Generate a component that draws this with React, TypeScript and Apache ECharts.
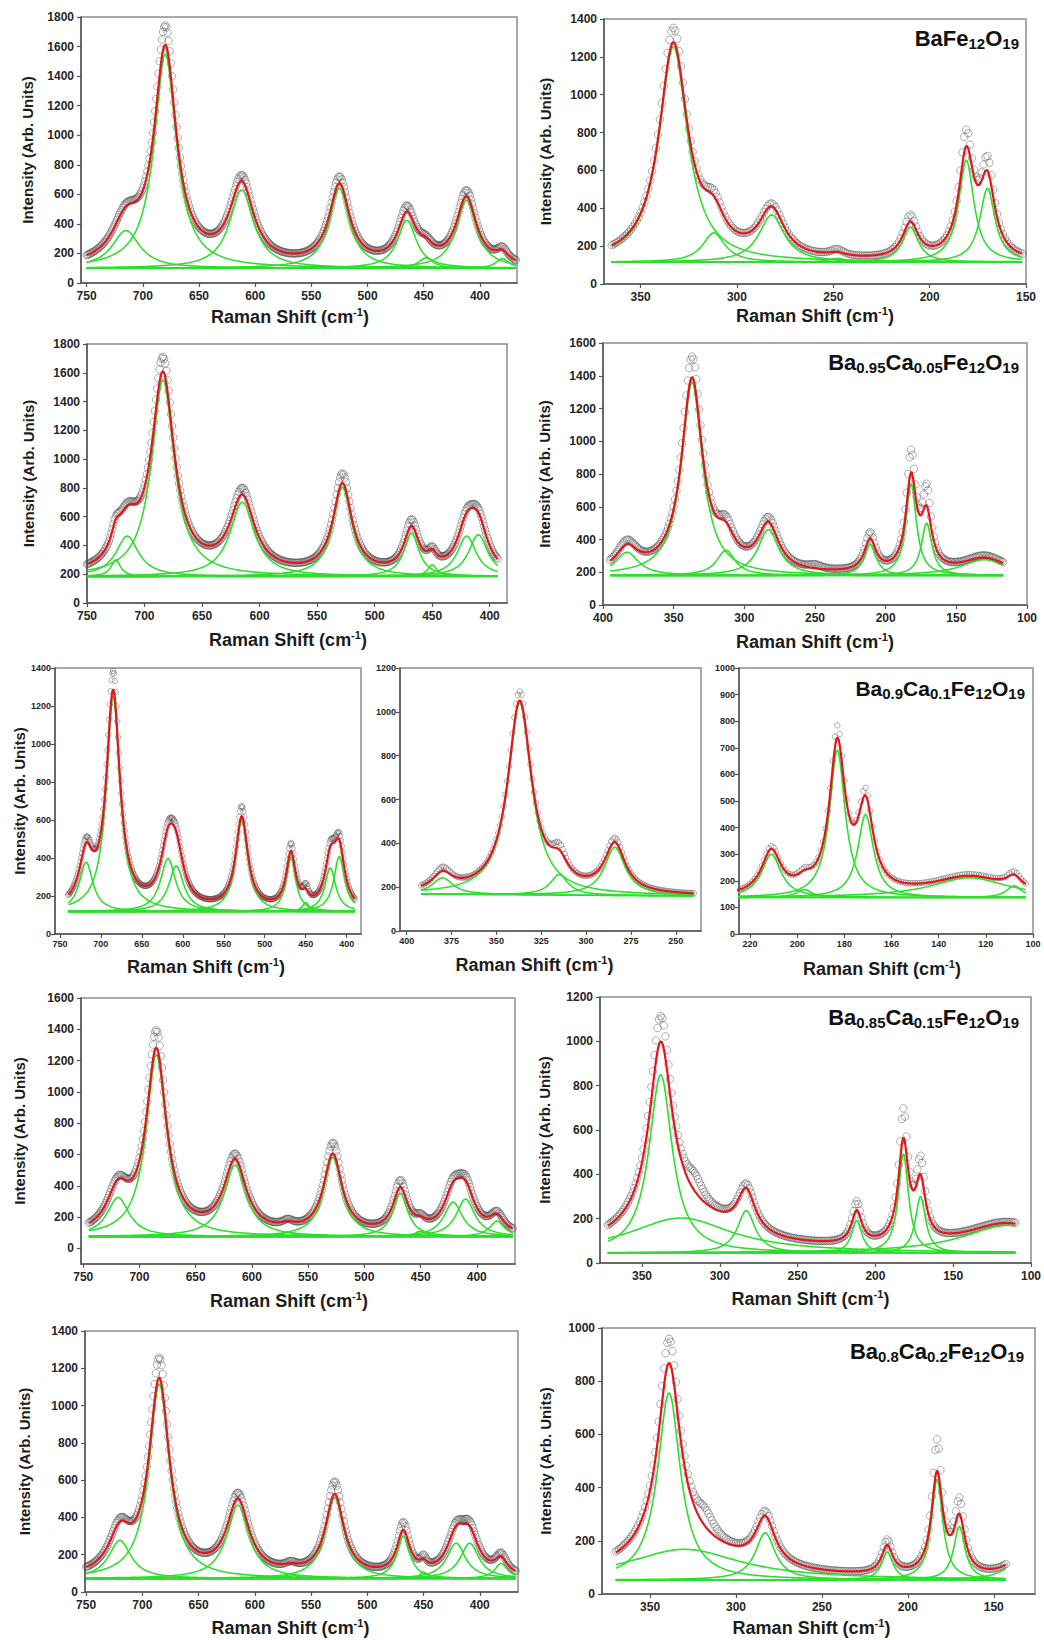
import React, { useEffect, useRef } from "react";
import * as echarts from "echarts";

const FONT = '"Liberation Sans", Arial, Helvetica, sans-serif';
const GREEN = "#2bdf2b";
const RED = "#e3151d";
const DOT = "rgba(70,70,70,0.55)";

// ---------- Peak data ----------
// range: [first, last] Raman shift sampled; baseline: [value at first, value at last]
// centers (cm-1), heights above baseline (fit), half widths (cm-1), observed peak heights

// Panel 1: BaFe12O19, high-frequency
const p1Range = [750, 368];
const p1Baseline = [100, 100];
const p1Centers = [715, 680, 612, 525, 465, 448, 412, 380];
const p1Heights = [255, 1450, 530, 540, 325, 70, 460, 65];
const p1Widths = [15, 12, 13, 11, 10, 8, 11, 7];
const p1Observed = [275, 1580, 570, 585, 365, 80, 500, 85];

// Panel 2: BaFe12O19, low-frequency
const p2Range = [365, 152];
const p2Baseline = [115, 115];
const p2Centers = [333, 312, 282, 248, 210, 181, 170];
const p2Heights = [1140, 155, 250, 20, 185, 540, 390];
const p2Widths = [9, 7, 8, 6, 5, 4.8, 4.8];
const p2Observed = [1215, 185, 265, 35, 220, 625, 465];

// Panel 3: Ba0.95Ca0.05Fe12O19, high-frequency
const p3Range = [750, 393];
const p3Baseline = [185, 185];
const p3Centers = [725, 715, 684, 615, 528, 468, 450, 420, 410];
const p3Heights = [115, 280, 1365, 515, 620, 300, 80, 280, 290];
const p3Widths = [5, 12, 12, 13, 10, 8, 5, 10, 10];
const p3Observed = [130, 300, 1465, 560, 685, 345, 95, 300, 315];

// Panel 4: Ba0.95Ca0.05Fe12O19, low-frequency
const p4Range = [395, 117];
const p4Baseline = [180, 180];
const p4Centers = [383, 337, 313, 283, 250, 211, 182, 171, 130];
const p4Heights = [142, 1180, 154, 280, 0, 192, 560, 320, 97];
const p4Widths = [10, 9, 8, 9, 6, 5, 4.5, 4.5, 20];
const p4Observed = [170, 1305, 190, 310, 25, 230, 695, 450, 110];

// Panel 5: Ba0.9Ca0.1Fe12O19, high-frequency
const p5Range = [740, 390];
const p5Baseline = [118, 118];
const p5Centers = [718, 685, 618, 608, 528, 468, 450, 420, 409];
const p5Heights = [260, 1133, 280, 240, 482, 288, 47, 230, 290];
const p5Widths = [10, 10, 11, 11, 9, 7, 5, 8, 8];
const p5Observed = [290, 1230, 305, 260, 535, 330, 75, 255, 320];

// Panel 6: Ba0.9Ca0.1Fe12O19, mid-frequency
const p6Range = [392, 240];
const p6Baseline = [168, 160];
const p6Centers = [380, 337, 315, 284];
const p6Heights = [75, 875, 94, 220];
const p6Widths = [7, 8, 6, 7];
const p6Observed = [95, 915, 125, 240];

// Panel 7: Ba0.9Ca0.1Fe12O19, low-frequency
const p7Range = [226, 103];
const p7Baseline = [137, 137];
const p7Centers = [211, 197, 183, 171, 127, 108];
const p7Heights = [163, 30, 555, 313, 74, 44];
const p7Widths = [5, 4, 4, 4, 20, 4];
const p7Observed = [173, 40, 600, 340, 80, 55];

// Panel 8: Ba0.85Ca0.15Fe12O19, high-frequency
const p8Range = [745, 368];
const p8Baseline = [75, 75];
const p8Centers = [719, 685, 615, 568, 528, 468, 450, 421, 410, 382];
const p8Heights = [250, 1163, 457, 27, 506, 276, 35, 220, 240, 99];
const p8Widths = [12, 11, 12, 8, 10, 8, 6, 10, 10, 8];
const p8Observed = [270, 1275, 490, 40, 575, 320, 50, 245, 265, 115];

// Panel 9: Ba0.85Ca0.15Fe12O19, low-frequency
const p9Range = [372, 110];
const p9Baseline = [45, 45];
const p9Centers = [338, 325, 316, 283, 212, 182, 171, 115];
const p9Heights = [805, 158, 0, 191, 146, 447, 255, 125];
const p9Widths = [9, 40, 6, 7, 4, 4, 4, 35];
const p9Observed = [905, 170, 70, 206, 186, 577, 335, 130];

// Panel 10: Ba0.8Ca0.2Fe12O19, high-frequency
const p10Range = [750, 368];
const p10Baseline = [72, 72];
const p10Centers = [720, 685, 615, 568, 529, 468, 450, 421, 409, 381];
const p10Heights = [205, 1043, 394, 20, 434, 228, 35, 190, 190, 81];
const p10Widths = [12, 11, 12, 8, 10, 7, 4, 10, 10, 7];
const p10Observed = [225, 1150, 425, 30, 500, 270, 55, 210, 215, 100];

// Panel 11: Ba0.8Ca0.2Fe12O19, low-frequency
const p11Range = [370, 143];
const p11Baseline = [53, 53];
const p11Centers = [339, 330, 318, 283, 212, 183, 170, 135];
const p11Heights = [703, 115, 0, 177, 105, 378, 201, 70];
const p11Widths = [8, 40, 6, 7, 4, 4, 4, 10];
const p11Observed = [780, 125, 60, 192, 125, 495, 261, 75];

// ---------- Tick labels ----------
const xTicksHigh = [750, 700, 650, 600, 550, 500, 450, 400];
const xTicksLow150 = [350, 300, 250, 200, 150];
const xTicksLow100 = [400, 350, 300, 250, 200, 150, 100];
const xTicksMid = [400, 375, 350, 325, 300, 275, 250];
const xTicksP7 = [220, 200, 180, 160, 140, 120, 100];
const xTicksP9 = [350, 300, 250, 200, 150, 100];
const yTicks1800 = [0, 200, 400, 600, 800, 1000, 1200, 1400, 1600, 1800];
const yTicks1600 = [0, 200, 400, 600, 800, 1000, 1200, 1400, 1600];
const yTicks1400 = [0, 200, 400, 600, 800, 1000, 1200, 1400];
const yTicks1200 = [0, 200, 400, 600, 800, 1000, 1200];
const yTicks1000by100 = [0, 100, 200, 300, 400, 500, 600, 700, 800, 900, 1000];
const yTicks1000by200 = [0, 200, 400, 600, 800, 1000];

const titleP2 = "BaFe{s|12}O{s|19}";
const titleP4 = "Ba{s|0.95}Ca{s|0.05}Fe{s|12}O{s|19}";
const titleP7 = "Ba{s|0.9}Ca{s|0.1}Fe{s|12}O{s|19}";
const titleP9 = "Ba{s|0.85}Ca{s|0.15}Fe{s|12}O{s|19}";
const titleP11 = "Ba{s|0.8}Ca{s|0.2}Fe{s|12}O{s|19}";

type Panel = {
  range: number[]; baseline: number[]; centers: number[]; heights: number[]; widths: number[]; observed: number[];
  grid: { left: number; top: number; width: number; height: number };
  xMin: number; xMax: number; yMin: number; yMax: number;
  xTicks: number[]; yTicks: number[];
  yName: boolean; yNameGap: number; xNameGap: number; xNameShift: number;
  small: boolean;
  title?: string; titleRight?: number; titleTop?: number; titleSize?: number;
};

const PANELS: Panel[] = [
  { range: p1Range, baseline: p1Baseline, centers: p1Centers, heights: p1Heights, widths: p1Widths, observed: p1Observed,
    grid: { left: 81, top: 17, width: 436, height: 266 }, xMin: 367, xMax: 755, yMin: 0, yMax: 1800,
    xTicks: xTicksHigh, yTicks: yTicks1800, yName: true, yNameGap: 46, xNameGap: 23, xNameShift: 18, small: false },
  { range: p2Range, baseline: p2Baseline, centers: p2Centers, heights: p2Heights, widths: p2Widths, observed: p2Observed,
    grid: { left: 604, top: 19, width: 422, height: 265 }, xMin: 150, xMax: 369, yMin: 0, yMax: 1400,
    xTicks: xTicksLow150, yTicks: yTicks1400, yName: true, yNameGap: 51, xNameGap: 21, xNameShift: 0, small: false,
    title: titleP2, titleRight: 25, titleTop: 25, titleSize: 22 },
  { range: p3Range, baseline: p3Baseline, centers: p3Centers, heights: p3Heights, widths: p3Widths, observed: p3Observed,
    grid: { left: 87, top: 344, width: 420, height: 259 }, xMin: 385, xMax: 750, yMin: 0, yMax: 1800,
    xTicks: xTicksHigh, yTicks: yTicks1800, yName: true, yNameGap: 51, xNameGap: 26, xNameShift: 18, small: false },
  { range: p4Range, baseline: p4Baseline, centers: p4Centers, heights: p4Heights, widths: p4Widths, observed: p4Observed,
    grid: { left: 603, top: 343, width: 424, height: 262 }, xMin: 100, xMax: 400, yMin: 0, yMax: 1600,
    xTicks: xTicksLow100, yTicks: yTicks1600, yName: true, yNameGap: 51, xNameGap: 26, xNameShift: 0, small: false,
    title: titleP4, titleRight: 25, titleTop: 349, titleSize: 22 },
  { range: p5Range, baseline: p5Baseline, centers: p5Centers, heights: p5Heights, widths: p5Widths, observed: p5Observed,
    grid: { left: 55, top: 668, width: 306, height: 266 }, xMin: 382.5, xMax: 756, yMin: 0, yMax: 1400,
    xTicks: xTicksHigh, yTicks: yTicks1400, yName: true, yNameGap: 28, xNameGap: 22, xNameShift: 4, small: true },
  { range: p6Range, baseline: p6Baseline, centers: p6Centers, heights: p6Heights, widths: p6Widths, observed: p6Observed,
    grid: { left: 400, top: 668, width: 301, height: 263 }, xMin: 236, xMax: 403.7, yMin: 0, yMax: 1200,
    xTicks: xTicksMid, yTicks: yTicks1200, yName: false, yNameGap: 0, xNameGap: 23, xNameShift: 32, small: true },
  { range: p7Range, baseline: p7Baseline, centers: p7Centers, heights: p7Heights, widths: p7Widths, observed: p7Observed,
    grid: { left: 739, top: 668, width: 294, height: 266 }, xMin: 100, xMax: 224.7, yMin: 0, yMax: 1000,
    xTicks: xTicksP7, yTicks: yTicks1000by100, yName: false, yNameGap: 0, xNameGap: 24, xNameShift: 8, small: true,
    title: titleP7, titleRight: 19, titleTop: 675, titleSize: 21 },
  { range: p8Range, baseline: p8Baseline, centers: p8Centers, heights: p8Heights, widths: p8Widths, observed: p8Observed,
    grid: { left: 81, top: 998, width: 434, height: 266 }, xMin: 366, xMax: 752, yMin: -100, yMax: 1600,
    xTicks: xTicksHigh, yTicks: yTicks1600, yName: true, yNameGap: 54, xNameGap: 26, xNameShift: 18, small: false },
  { range: p9Range, baseline: p9Baseline, centers: p9Centers, heights: p9Heights, widths: p9Widths, observed: p9Observed,
    grid: { left: 600, top: 997, width: 431, height: 266 }, xMin: 100, xMax: 377, yMin: 0, yMax: 1200,
    xTicks: xTicksP9, yTicks: yTicks1200, yName: true, yNameGap: 48, xNameGap: 25, xNameShift: 10, small: false,
    title: titleP9, titleRight: 25, titleTop: 1004, titleSize: 22 },
  { range: p10Range, baseline: p10Baseline, centers: p10Centers, heights: p10Heights, widths: p10Widths, observed: p10Observed,
    grid: { left: 85, top: 1331, width: 433, height: 265 }, xMin: 366, xMax: 751, yMin: 0, yMax: 1400,
    xTicks: xTicksHigh, yTicks: yTicks1400, yName: true, yNameGap: 53, xNameGap: 25, xNameShift: 22, small: false },
  { range: p11Range, baseline: p11Baseline, centers: p11Centers, heights: p11Heights, widths: p11Widths, observed: p11Observed,
    grid: { left: 602, top: 1328, width: 433, height: 270 }, xMin: 126, xMax: 378, yMin: 0, yMax: 1000,
    xTicks: xTicksLow150, yTicks: yTicks1000by200, yName: true, yNameGap: 49, xNameGap: 23, xNameShift: 14, small: false,
    title: titleP11, titleRight: 20, titleTop: 1338, titleSize: 22 },
];

function lorentz(x: number, c: number, h: number, w: number) {
  const d = (x - c) / w;
  return h / (1 + d * d);
}

function buildOption() {
  const grids: any[] = [];
  const xAxes: any[] = [];
  const yAxes: any[] = [];
  const titles: any[] = [];
  const series: any[] = [];
  const axisColor = "#555";
  const labelFmt = (v: number) => String(Math.round(v));

  PANELS.forEach((p, i) => {
    grids.push({ ...p.grid, show: true, borderColor: "#8d8d8d", borderWidth: 1.5, backgroundColor: "transparent", containLabel: false });
    const tickFont = p.small ? 9 : 12;
    xAxes.push({
      gridIndex: i, type: "value", inverse: true, min: p.xMin, max: p.xMax,
      axisLine: { show: true, onZero: false, lineStyle: { color: axisColor, width: 1.5 } },
      axisTick: { show: true, length: 4, customValues: p.xTicks, lineStyle: { color: axisColor, width: 1.2 } },
      axisLabel: { customValues: p.xTicks, formatter: labelFmt, fontSize: tickFont, fontWeight: "bold", color: "#262626", fontFamily: FONT, margin: p.small ? 5 : 7 },
      splitLine: { show: false },
      name: "Raman Shift (cm{sup|-1})",
      nameLocation: "middle",
      nameGap: p.xNameGap,
      nameTextStyle: {
        fontSize: 18, fontWeight: "bold", color: "#1c1c1c", fontFamily: FONT, lineHeight: 22,
        padding: [0, p.xNameShift, 0, 0],
        rich: { sup: { fontSize: 11, fontWeight: "bold", color: "#1c1c1c", fontFamily: FONT, lineHeight: 12, verticalAlign: "top" } },
      },
    });
    yAxes.push({
      gridIndex: i, type: "value", min: p.yMin, max: p.yMax,
      axisLine: { show: true, onZero: false, lineStyle: { color: axisColor, width: 1.5 } },
      axisTick: { show: true, length: 4, customValues: p.yTicks, lineStyle: { color: axisColor, width: 1.2 } },
      axisLabel: { customValues: p.yTicks, formatter: labelFmt, fontSize: tickFont, fontWeight: "bold", color: "#262626", fontFamily: FONT, margin: p.small ? 4 : 7 },
      splitLine: { show: false },
      name: p.yName ? "Intensity (Arb. Units)" : "",
      nameLocation: "middle",
      nameRotate: 90,
      nameGap: p.yNameGap,
      nameTextStyle: { fontSize: 15, fontWeight: "bold", color: "#1c1c1c", fontFamily: FONT },
    });
    if (p.title) {
      titles.push({
        text: p.title, right: p.titleRight, top: p.titleTop, padding: 0,
        textStyle: {
          fontSize: p.titleSize, fontWeight: "bold", color: "#111", fontFamily: FONT, lineHeight: 26,
          rich: { s: { fontSize: 15, fontWeight: "bold", color: "#111", fontFamily: FONT, lineHeight: 14, verticalAlign: "bottom" } },
        },
      });
    }

    const [xa, xb] = p.range;
    const lo = Math.min(xa, xb);
    const hi = Math.max(xa, xb);
    const base = (x: number) => p.baseline[0] + (p.baseline[1] - p.baseline[0]) * (x - xa) / (xb - xa);
    const lineXs: number[] = [];
    for (let x = lo; x <= hi + 1e-6; x += 0.5) lineXs.push(Math.round(x * 10) / 10);
    const obsXs: number[] = [];
    for (let x = lo; x <= hi + 1e-6; x += 1) obsXs.push(x);

    const obsData = obsXs.map((x) => {
      let s = base(x);
      p.centers.forEach((c, k) => {
        const H = p.observed[k];
        const h = p.heights[k];
        const w = h > 0 ? p.widths[k] * Math.sqrt(h / H) : p.widths[k];
        s += lorentz(x, c, H, w);
      });
      return [x, s];
    });
    series.push({
      type: "scatter", xAxisIndex: i, yAxisIndex: i, data: obsData, symbol: "circle",
      symbolSize: p.small ? 5.5 : 7.5, silent: true, z: 1,
      itemStyle: { color: "rgba(0,0,0,0)", borderColor: DOT, borderWidth: 1 },
    });

    const common = { type: "line", xAxisIndex: i, yAxisIndex: i, showSymbol: false, symbol: "none", silent: true, smooth: false };
    series.push({ ...common, data: lineXs.map((x) => [x, base(x)]), lineStyle: { color: GREEN, width: 1.6 }, z: 2 });
    p.centers.forEach((c, k) => {
      if (p.heights[k] <= 0) return;
      series.push({
        ...common,
        data: lineXs.map((x) => [x, base(x) + lorentz(x, c, p.heights[k], p.widths[k])]),
        lineStyle: { color: GREEN, width: 1.6 }, z: 2,
      });
    });
    const fitData = lineXs.map((x) => {
      let s = base(x);
      p.centers.forEach((c, k) => { s += lorentz(x, c, p.heights[k], p.widths[k]); });
      return [x, s];
    });
    series.push({ ...common, data: fitData, lineStyle: { color: RED, width: 2.2 }, z: 3 });
  });

  return {
    animation: false,
    backgroundColor: "#ffffff",
    textStyle: { fontFamily: FONT },
    title: titles,
    grid: grids,
    xAxis: xAxes,
    yAxis: yAxes,
    series,
  };
}

export default function App() {
  const ref = useRef<HTMLDivElement>(null);
  useEffect(() => {
    document.body.style.margin = "0";
    if (!ref.current) return;
    const chart = echarts.init(ref.current, undefined, { renderer: "svg" });
    chart.setOption(buildOption() as any);
    return () => chart.dispose();
  }, []);
  return <div ref={ref} style={{ width: 1044, height: 1640, background: "#fff" }} />;
}
